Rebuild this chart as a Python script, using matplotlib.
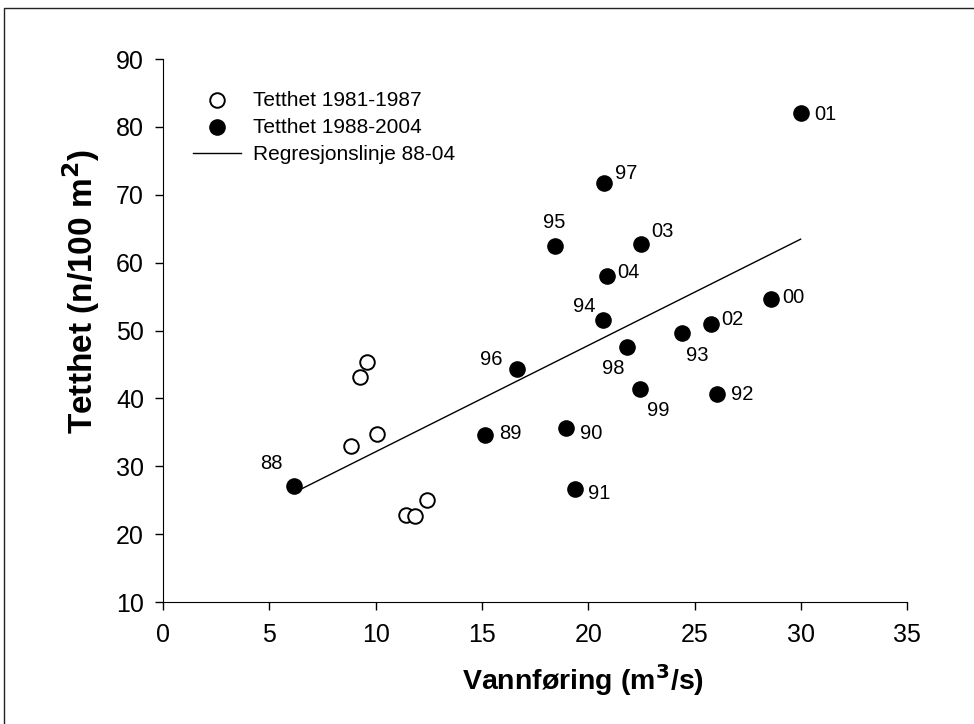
import numpy as np
import matplotlib
matplotlib.use("Agg")
import matplotlib.pyplot as plt
from matplotlib.patches import Rectangle

plt.rcParams['font.family'] = ['Liberation Sans', 'DejaVu Sans']

# Tetthet 1981-1987 (open circles)
x_old = [9.58, 9.28, 10.08, 8.84, 12.42, 11.42, 11.87]
y_old = [45.4, 43.1, 34.7, 33.0, 25.1, 22.8, 22.7]

# Tetthet 1988-2004 (filled circles)
years = ['88', '89', '90', '91', '92', '93', '94', '95', '96',
         '97', '98', '99', '00', '01', '02', '03', '04']
x_new = [6.16, 15.15, 18.96, 19.38, 26.04, 24.43, 20.71, 18.45, 16.64,
         20.76, 21.81, 22.44, 28.58, 29.99, 25.78, 22.48, 20.88]
y_new = [27.1, 34.6, 35.7, 26.6, 40.6, 49.7, 51.5, 62.5, 44.3,
         71.7, 47.6, 41.4, 54.6, 82.0, 51.0, 62.8, 58.1]

# label placement: (dx pt, dy pt, ha)
offsets = {'88': (-16, 16, 'center'), '89': (10, 1, 'left'),
           '90': (10, -4, 'left'), '91': (9, -3, 'left'),
           '92': (10, 0, 'left'), '93': (10.5, -16.5, 'center'),
           '94': (-5.5, 10, 'right'), '95': (-0.5, 17, 'center'),
           '96': (-10, 7, 'right'), '97': (7.7, 7.2, 'left'),
           '98': (-9.6, -15.5, 'center'), '99': (13.2, -15.8, 'center'),
           '00': (8.6, 1, 'left'), '01': (10, -1, 'left'),
           '02': (7, 3, 'left'), '03': (7.7, 8.4, 'left'),
           '04': (7.7, 2, 'left')}

fig = plt.figure(figsize=(9.74, 7.24), dpi=100)
# outer frame (only left/top edges visible in the original)
fig.patches.append(Rectangle((4 / 974, -0.1), 1.2, 1.1 - 8 / 724,
                             transform=fig.transFigure, fill=False,
                             edgecolor='#222222', linewidth=1.0))
ax = fig.add_axes([0.1674, 0.1685, 0.7639, 0.75])

ax.scatter(x_old, y_old, s=110, facecolors='white', edgecolors='black',
           linewidths=1.4, zorder=3, label='Tetthet 1981-1987')
ax.scatter(x_new, y_new, s=120, color='black', zorder=3,
           label='Tetthet 1988-2004')

# regression line 88-04
k, m = np.polyfit(x_new, y_new, 1)
xr = np.array([min(x_new), max(x_new)])
ax.plot(xr, k * xr + m, color='black', linewidth=1.0,
        label='Regresjonslinje 88-04', zorder=2)

for yr, xv, yv in zip(years, x_new, y_new):
    dx, dy, ha = offsets[yr]
    ax.annotate(yr, (xv, yv), xytext=(dx, dy), textcoords='offset points',
                ha=ha, va='center', fontsize=14.5)

ax.set_xlim(0, 35)
ax.set_ylim(10, 90)
ax.set_xticks(range(0, 36, 5))
ax.set_yticks(range(10, 91, 10))
ax.spines['top'].set_visible(False)
ax.spines['right'].set_visible(False)
ax.tick_params(direction='out', length=5.8, width=1, labelsize=18)
ax.tick_params(axis='x', pad=9.5)
ax.tick_params(axis='y', pad=8)

ax.set_xlabel('Vannføring (m$\\mathbf{^3}$/s)', fontsize=20.5,
              fontweight='bold', va='center')
ax.xaxis.set_label_coords(0.5645, -0.1436)
ax.set_ylabel('Tetthet (n/100 m$\\mathbf{^2}$)', fontsize=24,
              fontweight='bold', va='center')
ax.yaxis.set_label_coords(-0.1095, 0.571)

ax.legend(loc='upper left', bbox_to_anchor=(0.0403, 0.942), frameon=False,
          fontsize=15, handlelength=2.3, labelspacing=0.4,
          handletextpad=0.6, borderpad=0, borderaxespad=0, scatterpoints=1)

fig.savefig('out.png', dpi=100)
